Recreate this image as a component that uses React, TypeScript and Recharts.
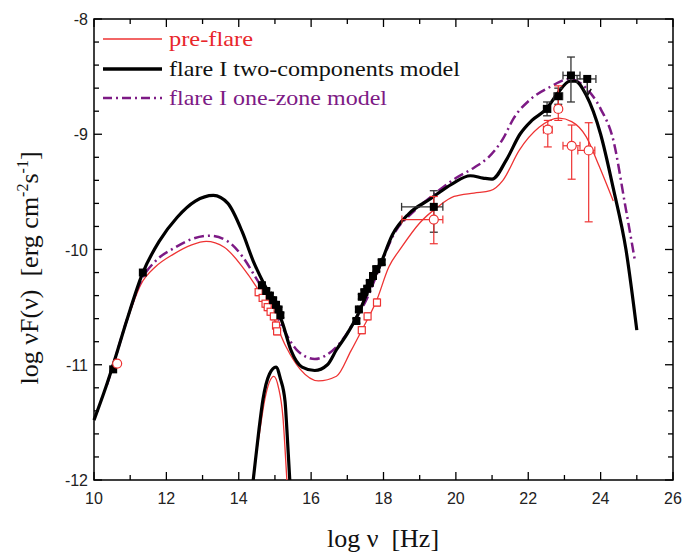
import React from 'react';
import {
  ComposedChart,
  Line,
  Scatter,
  XAxis,
  YAxis,
  ErrorBar,
  ReferenceArea,
  Legend,
  Label,
} from 'recharts';

// model curves: [log nu, log nuF(nu)]
const preFlareModel = [
  [10.35, -11.18], [10.6, -10.93], [10.9, -10.63], [11.3, -10.3], [11.7, -10.15],
  [12.2, -10.04], [12.7, -9.96], [13.1, -9.93], [13.6, -9.98], [14.1, -10.15],
  [14.5, -10.33], [14.9, -10.55], [15.3, -10.84], [15.7, -11.04], [16.2, -11.14],
  [16.7, -11.1], [17.1, -10.88], [17.4, -10.7], [17.8, -10.45], [18.15, -10.15],
  [18.5, -9.98], [19.0, -9.77], [19.5, -9.63], [19.95, -9.54], [20.5, -9.51],
  [20.95, -9.49], [21.3, -9.4], [21.75, -9.14], [22.3, -8.94], [22.85, -8.86],
  [23.2, -8.89], [23.6, -9.02], [23.95, -9.27], [24.35, -9.58],
];
const twoComponentModel = [
  [10.0, -11.48], [10.3, -11.22], [10.55, -10.98], [10.9, -10.62], [11.35, -10.2],
  [11.8, -9.93], [12.3, -9.72], [12.8, -9.58], [13.3, -9.53], [13.7, -9.6],
  [14.1, -9.85], [14.4, -10.1], [14.7, -10.3], [15.0, -10.48], [15.2, -10.63],
  [15.45, -10.88], [15.75, -11.02], [16.1, -11.05], [16.45, -11.0], [16.7, -10.87],
  [17.0, -10.73], [17.3, -10.56], [17.6, -10.34], [17.9, -10.14], [18.25, -9.87],
  [18.7, -9.69], [19.3, -9.56], [19.9, -9.43], [20.4, -9.36], [20.75, -9.38],
  [21.0, -9.39], [21.4, -9.22], [21.77, -9.0], [22.1, -8.88], [22.5, -8.78],
  [22.8, -8.65], [23.15, -8.54], [23.3, -8.54], [23.6, -8.66], [24.0, -9.0],
  [24.35, -9.47], [24.7, -10.0], [25.0, -10.7],
];
const oneZoneModel = [
  [10.35, -11.18], [10.6, -10.93], [10.9, -10.62], [11.3, -10.27], [11.7, -10.1],
  [12.2, -9.99], [12.7, -9.91], [13.2, -9.88], [13.7, -9.93], [14.1, -10.06],
  [14.5, -10.26], [14.9, -10.47], [15.25, -10.7], [15.6, -10.87], [16.1, -10.95],
  [16.4, -10.92], [16.8, -10.81], [17.2, -10.62], [17.55, -10.42], [17.9, -10.15],
  [18.3, -9.86], [18.8, -9.68], [19.4, -9.52], [20.0, -9.38], [20.5, -9.29],
  [20.9, -9.2], [21.3, -9.04], [21.6, -8.86], [22.05, -8.7], [22.6, -8.59],
  [23.15, -8.52], [23.6, -8.6], [24.0, -8.78], [24.35, -9.05], [24.67, -9.6],
  [24.95, -10.1],
];
const preFlareDisk = [
  [14.25, -12.45], [14.39, -12.0], [14.57, -11.6], [14.72, -11.3], [14.97, -11.1],
  [15.1, -11.2], [15.22, -11.45], [15.33, -12.0], [15.42, -12.45],
];
const flareDisk = [
  [14.25, -12.4], [14.4, -12.0], [14.56, -11.56], [14.67, -11.3], [14.85, -11.08],
  [15.03, -11.02], [15.15, -11.12], [15.28, -11.32], [15.33, -11.56], [15.41, -12.0],
  [15.5, -12.4],
];

// observations (ex / ey: error, or [lower, upper])
const flareData = [
  { x: 10.53, y: -11.04, ex: 0, ey: 0 },
  { x: 11.35, y: -10.2, ex: 0, ey: 0 },
  { x: 14.64, y: -10.31, ex: 0.04, ey: 0.02 },
  { x: 14.76, y: -10.36, ex: 0.04, ey: 0.02 },
  { x: 14.86, y: -10.4, ex: 0.04, ey: 0.02 },
  { x: 14.95, y: -10.44, ex: 0.04, ey: 0.02 },
  { x: 15.03, y: -10.48, ex: 0.04, ey: 0.02 },
  { x: 15.1, y: -10.52, ex: 0.04, ey: 0.02 },
  { x: 15.15, y: -10.57, ex: 0.04, ey: 0.02 },
  { x: 17.25, y: -10.62, ex: 0.03, ey: 0.02 },
  { x: 17.32, y: -10.52, ex: 0.03, ey: 0.02 },
  { x: 17.4, y: -10.41, ex: 0.03, ey: 0.02 },
  { x: 17.47, y: -10.37, ex: 0.03, ey: 0.02 },
  { x: 17.55, y: -10.34, ex: 0.03, ey: 0.02 },
  { x: 17.62, y: -10.29, ex: 0.03, ey: 0.02 },
  { x: 17.71, y: -10.23, ex: 0.03, ey: 0.02 },
  { x: 17.8, y: -10.17, ex: 0.03, ey: 0.02 },
  { x: 17.95, y: -10.11, ex: 0.03, ey: 0.02 },
  { x: 19.39, y: -9.63, ex: [0.89, 0.25], ey: [0.22, 0.14] },
  { x: 22.52, y: -8.78, ex: 0.1, ey: 0.06 },
  { x: 22.83, y: -8.67, ex: 0.12, ey: 0.07 },
  { x: 23.18, y: -8.49, ex: [0.22, 0.25], ey: [0.23, 0.16] },
];
const flareUpperLimit = [{ x: 23.63, y: -8.52, ex: [0.28, 0.24] }];
const preFlareSquares = [
  { x: 14.55, y: -10.37, ex: 0.05, ey: 0.03 },
  { x: 14.66, y: -10.42, ex: 0.05, ey: 0.03 },
  { x: 14.74, y: -10.47, ex: 0.05, ey: 0.03 },
  { x: 14.8, y: -10.5, ex: 0.05, ey: 0.03 },
  { x: 14.88, y: -10.54, ex: 0.05, ey: 0.03 },
  { x: 14.97, y: -10.58, ex: 0.05, ey: 0.03 },
  { x: 15.03, y: -10.66, ex: 0.05, ey: 0.03 },
  { x: 15.06, y: -10.71, ex: 0.05, ey: 0.03 },
  { x: 17.4, y: -10.7, ex: 0.05, ey: 0.03 },
  { x: 17.56, y: -10.58, ex: 0.05, ey: 0.03 },
  { x: 17.82, y: -10.46, ex: 0.05, ey: 0.03 },
];
const preFlareCircles = [
  { x: 10.64, y: -10.99, ex: 0, ey: 0 },
  { x: 19.39, y: -9.74, ex: [0.88, 0.25], ey: [0.21, 0.2] },
  { x: 22.54, y: -8.96, ex: 0.12, ey: [0.15, 0.08] },
  { x: 22.83, y: -8.78, ex: 0.08, ey: [0.1, 0.2] },
  { x: 23.2, y: -9.1, ex: [0.24, 0.23], ey: [0.29, 0.18] },
  { x: 23.67, y: -9.14, ex: [0.3, 0.17], ey: [0.62, 0.24] },
];

const X_TICKS = [10, 11, 12, 13, 14, 15, 16, 17, 18, 19, 20, 21, 22, 23, 24, 25, 26];
const Y_TICKS = [
  -12, -11.8, -11.6, -11.4, -11.2, -11, -10.8, -10.6, -10.4, -10.2, -10,
  -9.8, -9.6, -9.4, -9.2, -9, -8.8, -8.6, -8.4, -8.2, -8,
];

const PLOT_LEFT = 94;
const PLOT_RIGHT = 673;
const PLOT_TOP = 19;
const PLOT_BOTTOM = 480;

const RED = '#ee3333';
const PURPLE = '#7d1a85';
const SERIF = '"Liberation Serif", "Times New Roman", serif';
const SANS = '"Liberation Sans", Arial, sans-serif';

const pts = (arr: number[][]) => arr.map(([x, y]) => ({ x, y }));

const XTick = (props: any) => {
  const { x, payload } = props;
  const v = payload.value;
  const major = v % 2 === 0;
  const len = major ? 8 : 5;
  return (
    <g>
      <line x1={x} x2={x} y1={PLOT_BOTTOM} y2={PLOT_BOTTOM - len} stroke="#000" strokeWidth={1.3} />
      <line x1={x} x2={x} y1={PLOT_TOP} y2={PLOT_TOP + len} stroke="#000" strokeWidth={1.3} />
      {major && (
        <text x={x} y={PLOT_BOTTOM + 24} textAnchor="middle" fontSize={16} fontFamily={SANS} fill="#222">
          {v}
        </text>
      )}
    </g>
  );
};

const YTick = (props: any) => {
  const { y, payload } = props;
  const v = payload.value;
  const major = Math.abs(v - Math.round(v)) < 1e-6;
  const len = major ? 8 : 5;
  return (
    <g>
      <line x1={PLOT_LEFT} x2={PLOT_LEFT + len} y1={y} y2={y} stroke="#000" strokeWidth={1.3} />
      <line x1={PLOT_RIGHT} x2={PLOT_RIGHT - len} y1={y} y2={y} stroke="#000" strokeWidth={1.3} />
      {major && (
        <text x={PLOT_LEFT - 6} y={y + 6} textAnchor="end" fontSize={16} fontFamily={SANS} fill="#222">
          {Math.round(v)}
        </text>
      )}
    </g>
  );
};

const XTitle = () => (
  <text x={383} y={547} textAnchor="middle" fontSize={26} fontFamily={SERIF} fill="#111" style={{ whiteSpace: 'pre' }}>
    log ν  [Hz]
  </text>
);

const YTitle = () => (
  <text
    transform="rotate(-90)"
    x={-268}
    y={38}
    textAnchor="middle"
    fontSize={26}
    fontFamily={SERIF}
    fill="#111"
    style={{ whiteSpace: 'pre' }}
  >
    <tspan>log νF(ν)  [erg cm</tspan>
    <tspan fontSize={16} dy={-10}>-2</tspan>
    <tspan dy={10}>s</tspan>
    <tspan fontSize={16} dy={-10}>-1</tspan>
    <tspan dy={10}>]</tspan>
  </text>
);

const FilledSquare = (props: any) => {
  const { cx, cy } = props;
  return <rect x={cx - 4} y={cy - 4} width={8} height={8} fill="#000" />;
};

const UpperLimit = (props: any) => {
  const { cx, cy } = props;
  return (
    <g>
      <line x1={cx} x2={cx} y1={cy} y2={cy + 17} stroke="#111" strokeWidth={1.3} />
      <path d={`M${cx - 4},${cy + 10} L${cx},${cy + 17} L${cx + 4},${cy + 10}`} fill="none" stroke="#111" strokeWidth={1.5} />
      <rect x={cx - 4} y={cy - 4} width={8} height={8} fill="#000" />
    </g>
  );
};

const OpenSquare = (props: any) => {
  const { cx, cy } = props;
  return <rect x={cx - 3.5} y={cy - 3.5} width={7} height={7} fill="#fff" stroke={RED} strokeWidth={1.2} />;
};

const OpenCircle = (props: any) => {
  const { cx, cy } = props;
  return <circle cx={cx} cy={cy} r={4.5} fill="#fff" stroke={RED} strokeWidth={1.2} />;
};

const LegendBox = () => (
  <svg width={480} height={120} style={{ display: 'block' }}>
    <line x1={103} x2={162} y1={39} y2={39} stroke={RED} strokeWidth={1.4} />
    <text x={169} y={46} fontSize={21} fontFamily={SERIF} fill="#e8262b" textLength={84} lengthAdjust="spacingAndGlyphs">
      pre-flare
    </text>
    <line x1={103} x2={162} y1={69} y2={69} stroke="#000" strokeWidth={3.5} />
    <text x={169} y={76} fontSize={21} fontFamily={SERIF} fill="#111" textLength={291} lengthAdjust="spacingAndGlyphs">
      flare I two-components model
    </text>
    <line x1={103} x2={162} y1={98} y2={98} stroke={PURPLE} strokeWidth={2.5} strokeDasharray="9 4 2 4" />
    <text x={169} y={105} fontSize={21} fontFamily={SERIF} fill={PURPLE} textLength={218} lengthAdjust="spacingAndGlyphs">
      flare I one-zone model
    </text>
  </svg>
);

export default function App() {
  return (
    <div style={{ position: 'absolute', left: 0, top: 0, width: 685, height: 553, background: '#fff' }}>
      <ComposedChart
        width={685}
        height={553}
        margin={{ top: PLOT_TOP, right: 685 - PLOT_RIGHT, left: PLOT_LEFT - 60, bottom: 553 - PLOT_BOTTOM - 40 }}
      >
        <XAxis
          type="number"
          dataKey="x"
          domain={[10, 26]}
          ticks={X_TICKS}
          interval={0}
          tick={XTick}
          tickLine={false}
          axisLine={false}
          height={40}
        >
          <Label content={XTitle} />
        </XAxis>
        <YAxis
          type="number"
          dataKey="y"
          domain={[-12, -8]}
          ticks={Y_TICKS}
          interval={0}
          tick={YTick}
          tickLine={false}
          axisLine={false}
          width={60}
          allowDataOverflow
        >
          <Label content={YTitle} />
        </YAxis>
        <Legend
          layout="vertical"
          align="center"
          verticalAlign="middle"
          content={LegendBox}
          wrapperStyle={{ top: 0, left: 0, width: 480, height: 120 }}
        />

        <Line data={pts(preFlareModel)} dataKey="y" type="monotone" stroke={RED} strokeWidth={1.3} dot={false} activeDot={false} isAnimationActive={false} />
        <Line data={pts(preFlareDisk)} dataKey="y" type="monotone" stroke={RED} strokeWidth={1.3} dot={false} activeDot={false} isAnimationActive={false} />
        <Line data={pts(oneZoneModel)} dataKey="y" type="monotone" stroke={PURPLE} strokeWidth={2.5} strokeDasharray="10 4 2 4" dot={false} activeDot={false} isAnimationActive={false} />
        <Line data={pts(twoComponentModel)} dataKey="y" type="monotone" stroke="#000" strokeWidth={3.2} dot={false} activeDot={false} isAnimationActive={false} />
        <Line data={pts(flareDisk)} dataKey="y" type="monotone" stroke="#000" strokeWidth={3.2} dot={false} activeDot={false} isAnimationActive={false} />

        <Scatter data={preFlareSquares} shape={OpenSquare} isAnimationActive={false}>
          <ErrorBar dataKey="ex" direction="x" width={3} stroke={RED} strokeWidth={1.2} />
          <ErrorBar dataKey="ey" direction="y" width={3} stroke={RED} strokeWidth={1.2} />
        </Scatter>
        <Scatter data={flareData} shape={FilledSquare} isAnimationActive={false}>
          <ErrorBar dataKey="ex" direction="x" width={4} stroke="#333" strokeWidth={1.3} />
          <ErrorBar dataKey="ey" direction="y" width={4} stroke="#333" strokeWidth={1.3} />
        </Scatter>
        <Scatter data={flareUpperLimit} shape={UpperLimit} isAnimationActive={false}>
          <ErrorBar dataKey="ex" direction="x" width={4} stroke="#333" strokeWidth={1.3} />
        </Scatter>
        <Scatter data={preFlareCircles} shape={OpenCircle} isAnimationActive={false}>
          <ErrorBar dataKey="ex" direction="x" width={4} stroke={RED} strokeWidth={1.2} />
          <ErrorBar dataKey="ey" direction="y" width={4} stroke={RED} strokeWidth={1.2} />
        </Scatter>

        <ReferenceArea x1={10} x2={26} y1={-12} y2={-8} fill="none" stroke="#000" strokeWidth={1.5} ifOverflow="visible" />
      </ComposedChart>
    </div>
  );
}
